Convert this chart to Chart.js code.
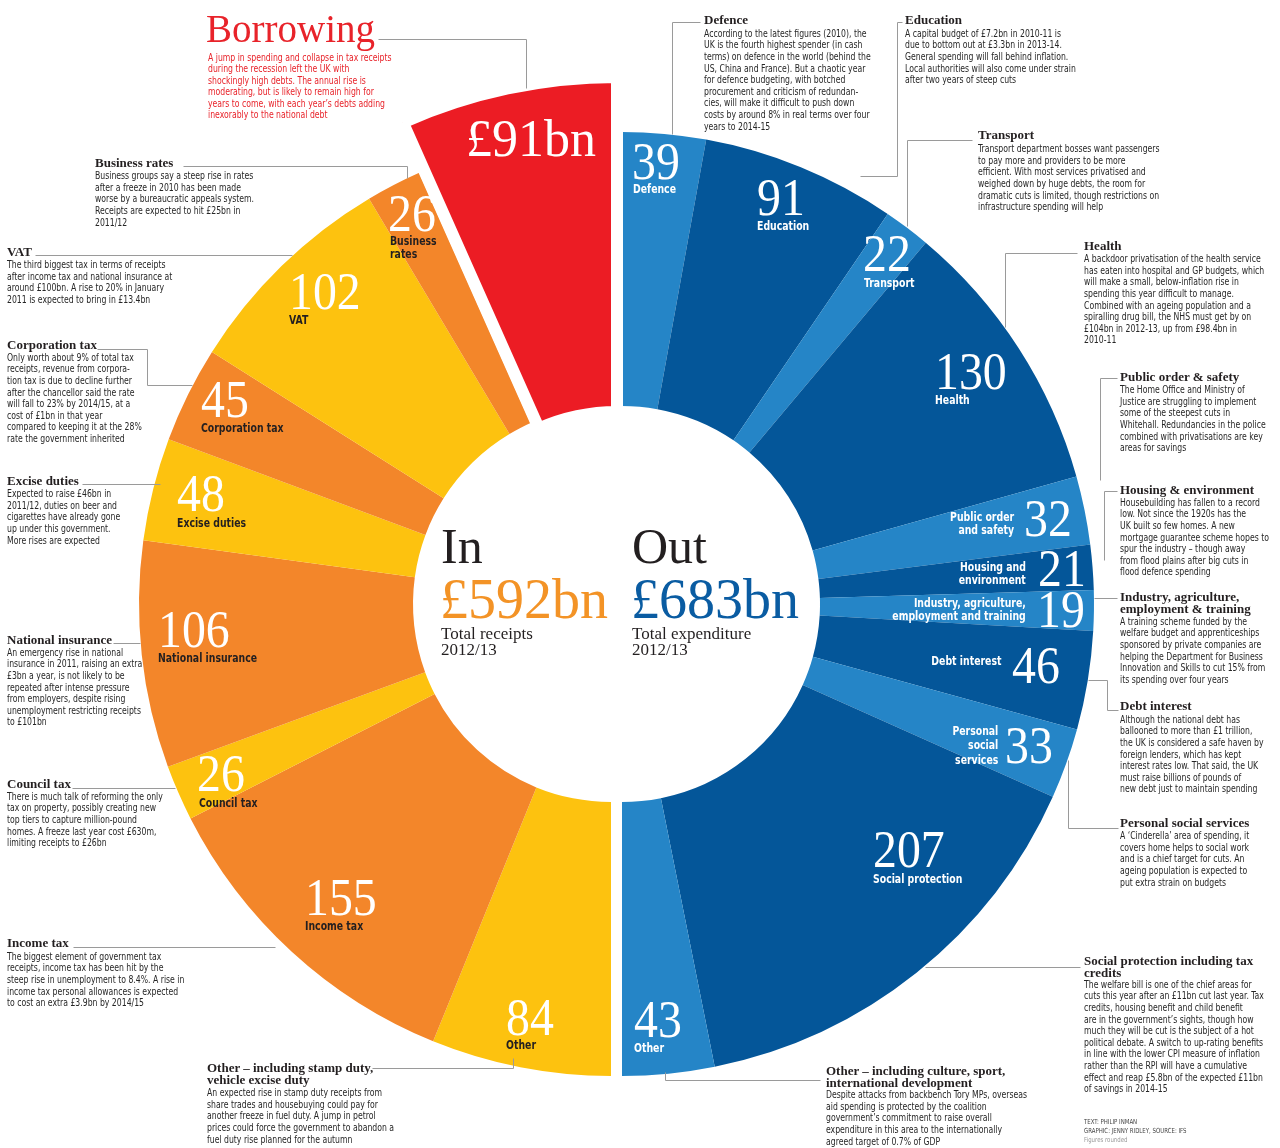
<!DOCTYPE html>
<html lang="en">
<head>
<meta charset="UTF-8">
<title>In £592bn / Out £683bn</title>
<script src="https://cdn.jsdelivr.net/npm/chart.js"></script>
<style>
  body { margin: 0; background: #fff; }
  #wrap { position: relative; width: 1280px; height: 1148px; overflow: hidden; }
  #wrap canvas, #wrap svg { position: absolute; left: 0; top: 0; }
  .t { position: absolute; white-space: pre; transform-origin: 0 0; }
  .num { font: 52px/52px "Liberation Serif", serif; color: #fff; transform: scaleX(0.92); }
  .name { font: bold 12.5px/13px "Liberation Sans Narrow", "DejaVu Sans Condensed", sans-serif; transform: scaleX(0.83); }
  .head { font: bold 13px/12px "Liberation Serif", serif; color: #231f20; }
  .body { font: 10px/11.6px "Liberation Sans Narrow", "DejaVu Sans Condensed", sans-serif; color: #262626; transform: scaleX(0.86); }
  .big { font-family: "Liberation Serif", serif; }
</style>
</head>
<body>
<div id="wrap">
  <canvas id="outChart" width="1280" height="1148"></canvas>
  <canvas id="inChart" width="1280" height="1148"></canvas>
  <canvas id="borrowChart" width="1280" height="1148"></canvas>
  <svg id="leaders" width="1280" height="1148"></svg>
</div>
<script>
// spending, clockwise from 12 o'clock
const outLabels = ['Defence', 'Education', 'Transport', 'Health', 'Public order\nand safety', 'Housing and\nenvironment',
  'Industry, agriculture,\nemployment and training', 'Debt interest', 'Personal\nsocial\nservices', 'Social protection', 'Other'];
const outValues = [39, 91, 22, 130, 32, 21, 19, 46, 33, 207, 43];

// receipts, clockwise from 6 o'clock
const inLabels = ['Other', 'Income tax', 'Council tax', 'National insurance', 'Excise duties', 'Corporation tax', 'VAT', 'Business\nrates'];
const inValues = [84, 155, 26, 106, 48, 45, 102, 26];

const borrowing = 91;

const sum = a => a.reduce((s, v) => s + v, 0);
const outTotal = sum(outValues);
const inTotal = sum(inValues);

const LIGHT_BLUE = '#2585c7', DARK_BLUE = '#045699', YELLOW = '#fdc20f', ORANGE = '#f3862a', RED = '#ec1c24';
const NONE = 'rgba(0,0,0,0)';

function ring(id, values, colours, opts) {
  return new Chart(document.getElementById(id), {
    type: 'doughnut',
    data: {
      datasets: [{
        data: values,
        backgroundColor: colours,
        borderColor: '#fff',
        borderWidth: opts.borders || 0,
        borderJoinStyle: 'miter'
      }]
    },
    options: {
      responsive: false,
      animation: false,
      events: [],
      radius: opts.radius,
      cutout: opts.cutout,
      layout: { padding: { top: 60, bottom: 0, left: 0, right: opts.padRight } },
      plugins: { legend: { display: false }, tooltip: { enabled: false } }
    }
  });
}

// right half: spending, then an invisible half for the receipts side
ring('outChart', [...outValues, inTotal + borrowing],
  [...outValues.map((v, i) => i % 2 ? DARK_BLUE : LIGHT_BLUE), NONE],
  { radius: 472, cutout: '41.95%', padRight: 36 });

// left half: invisible spending half, receipts, borrowing left for its own ring
ring('inChart', [outTotal, ...inValues, borrowing],
  [NONE, ...inValues.map((v, i) => i % 2 ? ORANGE : YELLOW), NONE],
  { radius: 472, cutout: '41.95%', padRight: 58 });

// borrowing pulled out as a bigger slice
ring('borrowChart', [outTotal, inTotal, borrowing], [NONE, NONE, RED],
  { radius: 527, cutout: '36.43%', padRight: 46, borders: [0, 0, 12] });

// ---- text ----
const wrap = document.getElementById('wrap');
function put(text, x, base, cls, style, align) {
  const d = document.createElement('div');
  d.className = 't ' + cls;
  if (style) d.style.cssText = style;
  wrap.appendChild(d);
  d.textContent = text;
  const cs = getComputedStyle(d);
  const size = parseFloat(cs.fontSize), lh = parseFloat(cs.lineHeight);
  d.style.top = (base - (lh / 2 + 0.34 * size)) + 'px';
  if (align === 'right') {
    d.style.right = (1280 - x) + 'px';
    d.style.textAlign = 'right';
    d.style.transformOrigin = '100% 0';
  } else d.style.left = x + 'px';
  return d;
}

// value label layout: [numX, numBaseline, nameX, nameBaseline, align, lineHeight]
const outLabelPos = [
  [632, 180, 633, 193], [757, 216, 757, 230], [863, 272, 864, 287], [935, 390, 935, 404],
  [1024, 537, 1014, 521, 'right'], [1038, 587, 1026, 571, 'right'], [1037, 628, 1026, 607, 'right'],
  [1012, 684, 1001, 665, 'right'], [1005, 764, 998, 735, 'right', 14.5],
  [873, 868, 873, 883], [634, 1038, 634, 1052]
];
const inLabelPos = [
  [506, 1036, 506, 1049], [305, 916, 305, 930], [197, 792, 199, 807], [158, 648, 158, 662],
  [177, 512, 177, 527], [201, 418, 201, 432], [289, 310, 289, 324], [388, 232, 390, 245]
];

outValues.forEach((v, i) => {
  const p = outLabelPos[i];
  put(String(v), p[0], p[1], 'num');
  put(outLabels[i], p[2], p[3], 'name', 'color:#fff;' + (p[5] ? 'line-height:' + p[5] + 'px' : ''), p[4]);
});
inValues.forEach((v, i) => {
  const p = inLabelPos[i];
  put(String(v), p[0], p[1], 'num');
  put(inLabels[i], p[2], p[3], 'name', 'color:#231f20');
});
put('£' + borrowing + 'bn', 466, 157, 'num', 'transform:none');

// centre totals
put('In', 441, 563, 'big', 'font-size:50px;line-height:50px;color:#231f20');
put('£' + inTotal + 'bn', 440, 618, 'big', 'font-size:56px;line-height:56px;color:#f39326');
put('Total receipts\n2012/13', 441, 640, 'big', 'font-size:17px;line-height:16px;color:#231f20');
put('Out', 632, 563, 'big', 'font-size:50px;line-height:50px;color:#231f20');
put('£' + outTotal + 'bn', 631, 618, 'big', 'font-size:56px;line-height:56px;color:#0a5ca2');
put('Total expenditure\n2012/13', 632, 640, 'big', 'font-size:17px;line-height:16px;color:#231f20');

// annotations: x, heading baseline, body baseline
const notes = [
  [704, 24, 37, 'Defence', 'According to the latest figures (2010), the\nUK is the fourth highest spender (in cash\nterms) on defence in the world (behind the\nUS, China and France). But a chaotic year\nfor defence budgeting, with botched\nprocurement and criticism of redundan-\ncies, will make it difficult to push down\ncosts by around 8% in real terms over four\nyears to 2014-15'],
  [905, 24, 37, 'Education', 'A capital budget of £7.2bn in 2010-11 is\ndue to bottom out at £3.3bn in 2013-14.\nGeneral spending will fall behind inflation.\nLocal authorities will also come under strain\nafter two years of steep cuts'],
  [978, 139, 152.5, 'Transport', 'Transport department bosses want passengers\nto pay more and providers to be more\nefficient. With most services privatised and\nweighed down by huge debts, the room for\ndramatic cuts is limited, though restrictions on\ninfrastructure spending will help'],
  [1084, 250.5, 262.5, 'Health', 'A backdoor privatisation of the health service\nhas eaten into hospital and GP budgets, which\nwill make a small, below-inflation rise in\nspending this year difficult to manage.\nCombined with an ageing population and a\nspiralling drug bill, the NHS must get by on\n£104bn in 2012-13, up from £98.4bn in\n2010-11'],
  [1120, 381, 393.5, 'Public order & safety', 'The Home Office and Ministry of\nJustice are struggling to implement\nsome of the steepest cuts in\nWhitehall. Redundancies in the police\ncombined with privatisations are key\nareas for savings'],
  [1120, 494, 506, 'Housing & environment', 'Housebuilding has fallen to a record\nlow. Not since the 1920s has the\nUK built so few homes. A new\nmortgage guarantee scheme hopes to\nspur the industry \u2013 though away\nfrom flood plains after big cuts in\nflood defence spending'],
  [1120, 601, 625, 'Industry, agriculture,\nemployment & training', 'A training scheme funded by the\nwelfare budget and apprenticeships\nsponsored by private companies are\nhelping the Department for Business\nInnovation and Skills to cut 15% from\nits spending over four years'],
  [1120, 710.5, 723, 'Debt interest', 'Although the national debt has\nballooned to more than £1 trillion,\nthe UK is considered a safe haven by\nforeign lenders, which has kept\ninterest rates low. That said, the UK\nmust raise billions of pounds of\nnew debt just to maintain spending'],
  [1120, 827, 839.5, 'Personal social services', 'A \u2018Cinderella\u2019 area of spending, it\ncovers home helps to social work\nand is a chief target for cuts. An\nageing population is expected to\nput extra strain on budgets'],
  [1084, 965, 988, 'Social protection including tax\ncredits', 'The welfare bill is one of the chief areas for\ncuts this year after an £11bn cut last year. Tax\ncredits, housing benefit and child benefit\nare in the government\u2019s sights, though how\nmuch they will be cut is the subject of a hot\npolitical debate. A switch to up-rating benefits\nin line with the lower CPI measure of inflation\nrather than the RPI will have a cumulative\neffect and reap £5.8bn of the expected £11bn\nof savings in 2014-15'],
  [826, 1075, 1098.5, 'Other \u2013 including culture, sport,\ninternational development', 'Despite attacks from backbench Tory MPs, overseas\naid spending is protected by the coalition\ngovernment\u2019s commitment to raise overall\nexpenditure in this area to the internationally\nagreed target of 0.7% of GDP'],
  [207, 1072, 1096.5, 'Other \u2013 including stamp duty,\nvehicle excise duty', 'An expected rise in stamp duty receipts from\nshare trades and housebuying could pay for\nanother freeze in fuel duty. A jump in petrol\nprices could force the government to abandon a\nfuel duty rise planned for the autumn'],
  [95, 167, 179.5, 'Business rates', 'Business groups say a steep rise in rates\nafter a freeze in 2010 has been made\nworse by a bureaucratic appeals system.\nReceipts are expected to hit £25bn in\n2011/12'],
  [7, 256, 268.5, 'VAT', 'The third biggest tax in terms of receipts\nafter income tax and national insurance at\naround £100bn. A rise to 20% in January\n2011 is expected to bring in £13.4bn'],
  [7, 349, 361, 'Corporation tax', 'Only worth about 9% of total tax\nreceipts, revenue from corpora-\ntion tax is due to decline further\nafter the chancellor said the rate\nwill fall to 23% by 2014/15, at a\ncost of £1bn in that year\ncompared to keeping it at the 28%\nrate the government inherited'],
  [7, 485, 497.5, 'Excise duties', 'Expected to raise £46bn in\n2011/12, duties on beer and\ncigarettes have already gone\nup under this government.\nMore rises are expected'],
  [7, 644, 656, 'National insurance', 'An emergency rise in national\ninsurance in 2011, raising an extra\n£3bn a year, is not likely to be\nrepeated after intense pressure\nfrom employers, despite rising\nunemployment restricting receipts\nto £101bn'],
  [7, 788, 800, 'Council tax', 'There is much talk of reforming the only\ntax on property, possibly creating new\ntop tiers to capture million-pound\nhomes. A freeze last year cost £630m,\nlimiting receipts to £26bn'],
  [7, 947, 960, 'Income tax', 'The biggest element of government tax\nreceipts, income tax has been hit by the\nsteep rise in unemployment to 8.4%. A rise in\nincome tax personal allowances is expected\nto cost an extra £3.9bn by 2014/15']
];
notes.forEach(n => {
  put(n[3], n[0], n[1], 'head');
  put(n[4], n[0], n[2], 'body');
});

put('Borrowing', 206, 42, 'big', 'font-size:39px;line-height:40px;color:#e8232a');
put('A jump in spending and collapse in tax receipts\nduring the recession left the UK with\nshockingly high debts. The annual rise is\nmoderating, but is likely to remain high for\nyears to come, with each year\u2019s debts adding\ninexorably to the national debt',
  208, 61, 'body', 'color:#e8232a;line-height:11.5px');

put('TEXT: PHILIP INMAN\nGRAPHIC: JENNY RIDLEY, SOURCE: IFS', 1084, 1125, 'body', 'font-size:7px;line-height:9.3px;color:#444');
put('Figures rounded', 1084, 1143, 'body', 'font-size:7px;line-height:9px;color:#999');

// leader lines
const leaders = [
  [[378, 39], [526, 39], [526, 88]],
  [[700, 22], [672, 22], [672, 134]],
  [[902, 22], [897, 22], [897, 176], [860, 176]],
  [[972, 140], [907, 140], [907, 226]],
  [[1077, 253], [1005, 253], [1005, 327]],
  [[1117, 378], [1100, 378], [1100, 480]],
  [[1117, 491], [1104, 491], [1104, 560]],
  [[1117, 598], [1094, 598]],
  [[1118, 710], [1107, 710], [1107, 680], [1088, 680]],
  [[1118, 828], [1068, 828], [1068, 760]],
  [[1080, 967], [925, 967]],
  [[820, 1080], [665, 1080], [665, 1072]],
  [[372, 1068], [513, 1068], [513, 1058]],
  [[183, 166], [407, 166], [407, 178]],
  [[35, 255], [292, 255]],
  [[97, 349], [147, 349], [147, 385], [192, 385]],
  [[82, 484], [160, 484]],
  [[113, 643], [140, 643]],
  [[72, 788], [175, 788]],
  [[73, 947], [275, 947]]
];
document.getElementById('leaders').innerHTML = leaders.map(pts =>
  '<polyline fill="none" stroke="#9a9a9a" stroke-width="1" points="' +
  pts.map(p => (p[0] + 0.5) + ',' + (p[1] + 0.5)).join(' ') + '"/>').join('');
</script>
</body>
</html>
